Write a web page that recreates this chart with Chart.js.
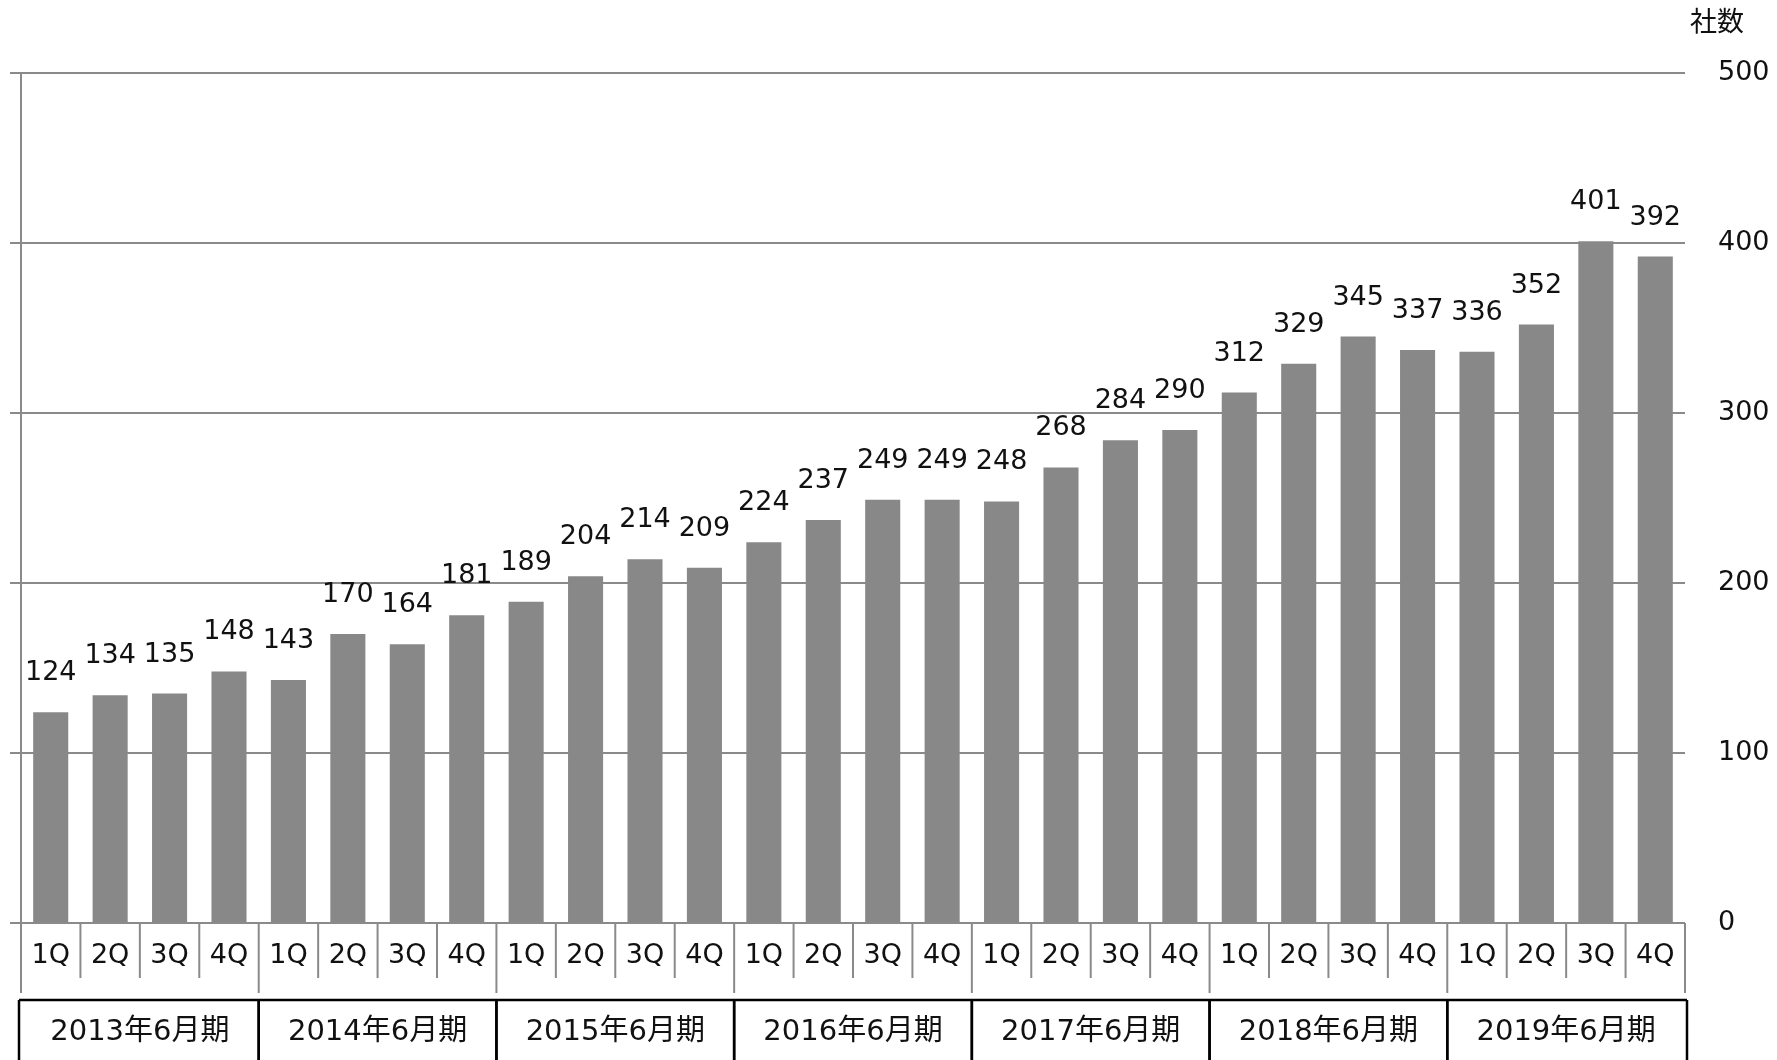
<!DOCTYPE html>
<html>
<head>
<meta charset="utf-8">
<script src="https://cdn.jsdelivr.net/npm/chart.js@4"></script>
<style>
  html, body { margin: 0; padding: 0; background: #fff; }
  #wrap { width: 1777px; height: 1060px; }
</style>
</head>
<body>
<div id="wrap"><canvas id="barChart" width="1777" height="1060"></canvas></div>
<script>
var quarters = ['1Q', '2Q', '3Q', '4Q'];
var years = ['2013年6月期', '2014年6月期', '2015年6月期', '2016年6月期', '2017年6月期', '2018年6月期', '2019年6月期'];
var counts = [124, 134, 135, 148, 143, 170, 164, 181, 189, 204, 214, 209, 224, 237, 249, 249,
              248, 268, 284, 290, 312, 329, 345, 337, 336, 352, 401, 392];
var yTicks = [0, 100, 200, 300, 400, 500];
var unitLabel = '社数';

var labels = [];
years.forEach(function () { quarters.forEach(function (q) { labels.push(q); }); });

var FONT = '"DejaVu Sans", "Noto Sans CJK JP", sans-serif';
var GRID = '#8a8a8a';

// labels above bars, quarter dividers, fiscal-year boxes
var extras = {
    id: 'extras',
    afterDatasetsDraw: function (chart) {
        var ctx = chart.ctx;
        var meta = chart.getDatasetMeta(0);
        ctx.save();
        ctx.fillStyle = '#111';
        ctx.font = '27px ' + FONT;
        ctx.textAlign = 'center';
        ctx.textBaseline = 'middle';
        meta.data.forEach(function (bar, i) {
            ctx.fillText(String(counts[i]), bar.x, bar.y - 39);
        });
        ctx.restore();
    },
    afterDraw: function (chart) {
        var ctx = chart.ctx;
        var x = chart.scales.x;
        var area = chart.chartArea;
        var half = (x.getPixelForValue(1) - x.getPixelForValue(0)) / 2;
        var edges = [];
        for (var i = 0; i <= labels.length; i++) {
            edges.push(i < labels.length ? x.getPixelForValue(i) - half : x.getPixelForValue(i - 1) + half);
        }
        ctx.save();
        // dividers under the axis
        ctx.strokeStyle = GRID;
        ctx.lineWidth = 2;
        edges.forEach(function (ex, i) {
            ctx.beginPath();
            ctx.moveTo(ex, area.bottom);
            ctx.lineTo(ex, i % 4 === 0 ? 993 : 978);
            ctx.stroke();
        });
        // year boxes
        ctx.strokeStyle = '#000';
        ctx.lineWidth = 2.5;
        ctx.beginPath();
        ctx.moveTo(edges[0] - 2, 1000);
        ctx.lineTo(edges[edges.length - 1] + 2, 1000);
        ctx.stroke();
        ctx.fillStyle = '#111';
        ctx.font = '29px ' + FONT;
        ctx.textAlign = 'center';
        ctx.textBaseline = 'middle';
        years.forEach(function (y, k) {
            var a = edges[k * 4], b = edges[k * 4 + 4];
            if (k === 0) a -= 2;
            if (k === years.length - 1) b += 2;
            ctx.beginPath();
            ctx.moveTo(a, 1000);
            ctx.lineTo(a, 1065);
            ctx.moveTo(b, 1000);
            ctx.lineTo(b, 1065);
            ctx.stroke();
            ctx.fillText(y, (edges[k * 4] + edges[k * 4 + 4]) / 2, 1032);
        });
        // unit label over the value axis
        ctx.font = '27px ' + FONT;
        ctx.textAlign = 'left';
        ctx.fillText(unitLabel, 1690, 24);
        ctx.restore();
    }
};

var barCtx = document.getElementById('barChart').getContext('2d');
var barChart = new Chart(barCtx, {
    type: 'bar',
    data: {
        labels: labels,
        datasets: [{
            data: counts,
            backgroundColor: '#888888',
            barPercentage: 0.59,
            categoryPercentage: 1
        }]
    },
    options: {
        responsive: false,
        animation: false,
        layout: { padding: { top: 73, left: 0, right: 0, bottom: 0 } },
        plugins: { legend: { display: false }, tooltip: { enabled: false } },
        scales: {
            x: {
                grid: { display: false },
                border: { display: false },
                ticks: {
                    color: '#111',
                    font: { family: FONT, size: 27 },
                    padding: 9,
                    maxRotation: 0,
                    autoSkip: false
                },
                afterFit: function (s) { s.height = 137; }
            },
            yL: {
                position: 'left',
                min: 0,
                max: 500,
                afterBuildTicks: function (s) { s.ticks = yTicks.map(function (v) { return { value: v }; }); },
                ticks: { display: false },
                grid: { drawOnChartArea: false, drawTicks: true, tickLength: 11, color: GRID, lineWidth: 2 },
                border: { display: true, color: GRID, width: 2 },
                afterFit: function (s) { s.width = 21; }
            },
            y: {
                position: 'right',
                min: 0,
                max: 500,
                afterBuildTicks: function (s) { s.ticks = yTicks.map(function (v) { return { value: v }; }); },
                ticks: {
                    color: '#111',
                    font: { family: FONT, size: 27 },
                    padding: 33
                },
                grid: { drawTicks: false, color: GRID, lineWidth: 2 },
                border: { display: false },
                afterFit: function (s) { s.width = 92; }
            }
        }
    },
    plugins: [extras]
});
</script>
</body>
</html>
